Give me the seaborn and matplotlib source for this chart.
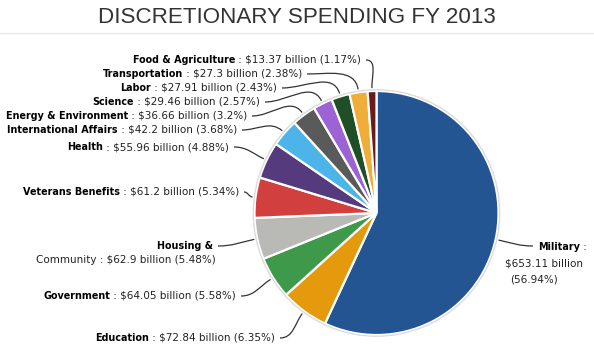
import numpy as np
import matplotlib
matplotlib.use("Agg")
import matplotlib.pyplot as plt
from matplotlib.path import Path
from matplotlib.patches import PathPatch, Circle
from matplotlib.lines import Line2D
import seaborn as sns

# data (clockwise from 12 o'clock)
categories = ["Military", "Education", "Government", "Housing & Community",
              "Veterans Benefits", "Health", "International Affairs",
              "Energy & Environment", "Science", "Labor", "Transportation",
              "Food & Agriculture"]
billions = [653.11, 72.84, 64.05, 62.9, 61.2, 55.96, 42.2, 36.66, 29.46, 27.91, 27.3, 13.37]
percents = [56.94, 6.35, 5.58, 5.48, 5.34, 4.88, 3.68, 3.2, 2.57, 2.43, 2.38, 1.17]
slice_colors = ["#235592", "#e59a0e", "#3e9a4a", "#b9b9b6", "#d13f3f", "#553b7e",
                "#4cb4e8", "#5a5a5a", "#9b63d3", "#1f4f26", "#f0ad3a", "#6b1a1a"]

# label anchor (right end of text, pixel coords) for the left side labels
label_x = [None, 275, 236, 213, 239, 229, 237, 247, 260, 277, 302, 361]
label_y = [None, 338, 296, 246, 192, 147, 130, 116, 102, 88, 74, 60]

W, H = 594, 354
sns.set_theme(style="white")
plt.rcParams["font.family"] = ["DejaVu Sans"]

fig = plt.figure(figsize=(W / 100, H / 100), dpi=100)
ax = fig.add_axes([0, 0, 1, 1])

cx, cy, R = 376.5, 213.0, 122.0
pal = sns.color_palette(slice_colors)
# y axis is inverted (pixel coords), so counterclock=True draws clockwise on screen
wedges, _ = ax.pie(billions, colors=pal, startangle=-90, counterclock=True,
                   center=(cx, cy), radius=R, frame=True,
                   wedgeprops=dict(edgecolor="white", linewidth=1.6))
ax.add_patch(Circle((cx, cy), R + 1.2, fill=False, edgecolor="#dcdcdc", lw=1.0))
ax.set_xlim(0, W)
ax.set_ylim(H, 0)
ax.axis("off")

# title + thin rule under it
fig.text(0.5, 1 - 23 / H, "DISCRETIONARY SPENDING FY 2013", ha="center",
         va="baseline", fontsize=16.1, family="Liberation Sans", color="#333333")
fig.add_artist(Line2D([0, 1], [1 - 33 / H, 1 - 33 / H], color="#e6e6e6", lw=1))

fs = 7.5      # regular part of the labels
fsb = 6.95    # bold names (DejaVu bold runs wide)
txt_col = "#222222"
fig.canvas.draw()
renderer = fig.canvas.get_renderer()
inv = ax.transData.inverted()


def connector(p0, p3, radial, toward):
    d = 0.4 * np.hypot(p3[0] - p0[0], p3[1] - p0[1])
    c1 = (p0[0] + toward * d, p0[1])
    c2 = (p3[0] + radial[0] * d, p3[1] + radial[1] * d)
    path = Path([p0, c1, c2, p3], [Path.MOVETO, Path.CURVE4, Path.CURVE4, Path.CURVE4])
    ax.add_patch(PathPatch(path, fill=False, edgecolor="#333333", lw=0.9))


for i, w in enumerate(wedges):
    a = np.deg2rad((w.theta1 + w.theta2) / 2)
    radial = (np.cos(a), np.sin(a))
    rim = (cx + (R + 3) * radial[0], cy + (R + 3) * radial[1])
    val = f"${billions[i]:g} billion ({percents[i]:g}%)"
    if i == 0:
        # Military label on the right, wrapped on three lines
        t = ax.text(538, 247, categories[i], ha="left", va="center",
                    fontsize=fsb, fontweight="bold", color="black")
        x1 = inv.transform((t.get_window_extent(renderer).x1, 0))[0]
        ax.text(x1, 247, " :", ha="left", va="center", fontsize=fs, color=txt_col)
        ax.text(505, 264, f"${billions[i]:g} billion", ha="left", va="center",
                fontsize=fs, color=txt_col)
        ax.text(510, 279, f"({percents[i]:g}%)", ha="left", va="center",
                fontsize=fs, color=txt_col)
        connector((533, 246), rim, radial, -1)
        continue
    xe, ye = label_x[i], label_y[i]
    if categories[i] == "Housing & Community":
        ax.text(xe, ye, "Housing &", ha="right", va="center", fontsize=fsb,
                fontweight="bold", color="black")
        ax.text(xe + 3, ye + 14, "Community : " + val, ha="right", va="center",
                fontsize=fs, color=txt_col)
    else:
        t = ax.text(xe, ye, " : " + val, ha="right", va="center", fontsize=fs,
                    color=txt_col)
        x0 = inv.transform((t.get_window_extent(renderer).x0, 0))[0]
        ax.text(x0, ye, categories[i], ha="right", va="center", fontsize=fsb,
                fontweight="bold", color="black")
    connector((xe + 5, ye), rim, radial, 1)

fig.savefig("out.png", dpi=100, facecolor="white")
